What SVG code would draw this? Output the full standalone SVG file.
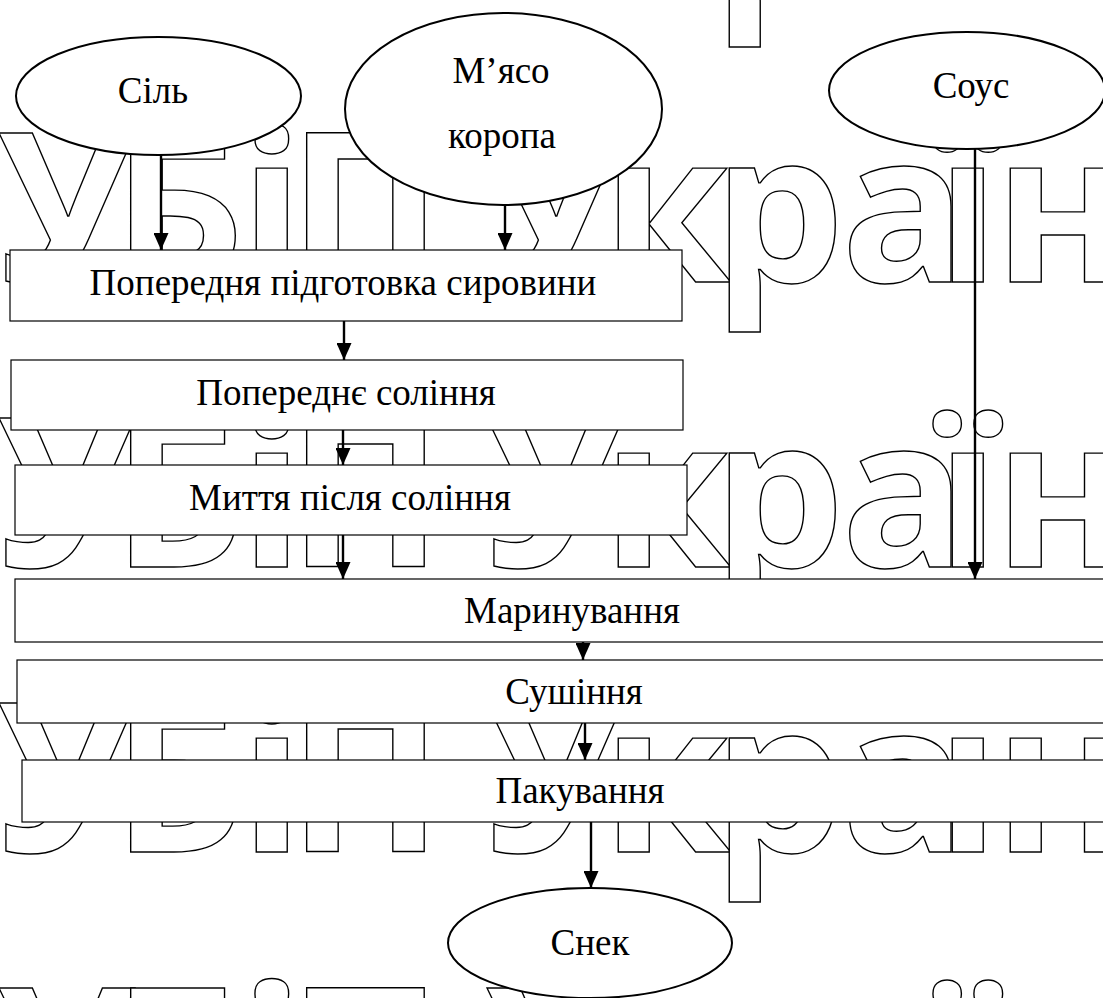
<svg xmlns="http://www.w3.org/2000/svg" width="1103" height="998" viewBox="0 0 1103 998">
<style>
.wm{font-family:"Open Sans","Noto Sans",sans-serif;font-weight:700;font-size:208px;fill:#fff;stroke:#000;stroke-width:1.4px}
.box{fill:#fff;stroke:#000;stroke-width:1.2px}
.ell{fill:#fff;stroke:#000;stroke-width:2px}
.t{font-family:"Liberation Serif","Times New Roman",serif;font-size:37px;fill:#000;text-anchor:middle}
.c{stroke:#000;stroke-width:2.4px;fill:none;marker-end:url(#arr)}
</style>
<defs>
<marker id="arr" markerUnits="userSpaceOnUse" markerWidth="17" markerHeight="15" viewBox="0 0 17 15" refX="17" refY="7.5" orient="auto">
<path d="M0,0 L17,7.5 L0,15 Z" fill="#000"/>
</marker>
</defs>
<rect width="1103" height="998" fill="#fff"/>
<g id="watermark">
<text class="wm" x="-3 112 240 288 440 485 602 713 841 936 994" y="-3">УБіП Україн</text>
<text class="wm" x="-3 112 240 288 440 485 602 713 841 936 994" y="282">УБіП Україн</text>
<text class="wm" x="-3 112 240 288 440 485 602 713 841 936 994" y="567">УБіП Україн</text>
<text class="wm" x="-3 112 240 288 440 485 602 713 841 936 994" y="852">УБіП Україн</text>
<text class="wm" x="-3 112 240 288 440 485 602 713 841 936 994" y="1137">УБіП Україн</text>
</g>
<g id="sil"><ellipse class="ell" cx="158.5" cy="96" rx="142.5" ry="59"/><text class="t" x="153" y="103">Сіль</text></g>
<g id="myaso"><ellipse class="ell" cx="503.5" cy="109" rx="158.5" ry="96"/><text class="t" x="501" y="83">М’ясо</text><text class="t" x="502" y="148">коропа</text></g>
<g id="sous"><ellipse class="ell" cx="967" cy="90.5" rx="138" ry="58.5"/><text class="t" x="971" y="98">Соус</text></g>
<g id="box1"><rect class="box" x="10" y="250" width="672" height="71"/><text class="t" x="343" y="295">Попередня підготовка сировини</text></g>
<g id="box2"><rect class="box" x="11" y="360" width="672" height="70"/><text class="t" x="346" y="405">Попереднє соління</text></g>
<g id="box3"><rect class="box" x="15" y="465" width="672" height="70"/><text class="t" x="350" y="510">Миття після соління</text></g>
<g id="box4"><rect class="box" x="15" y="579" width="1100" height="63"/><text class="t" x="572" y="623">Маринування</text></g>
<g id="box5"><rect class="box" x="17" y="660" width="1100" height="63"/><text class="t" x="574" y="704">Сушіння</text></g>
<g id="box6"><rect class="box" x="22" y="760" width="1100" height="62"/><text class="t" x="580" y="803">Пакування</text></g>
<g id="snek"><ellipse class="ell" cx="590" cy="943" rx="142" ry="55"/><text class="t" x="590" y="955">Снек</text></g>
<g id="connectors">
<line class="c" x1="161" y1="155" x2="161" y2="250"/>
<line class="c" x1="505" y1="205" x2="505" y2="250"/>
<line class="c" x1="344" y1="321" x2="344" y2="360"/>
<line class="c" x1="343" y1="430" x2="343" y2="465"/>
<line class="c" x1="343" y1="535" x2="343" y2="579"/>
<line class="c" x1="975" y1="149" x2="975" y2="579"/>
<line class="c" x1="583" y1="642" x2="583" y2="660"/>
<line class="c" x1="585" y1="723" x2="585" y2="760"/>
<line class="c" x1="591" y1="822" x2="591" y2="888"/>
</g>
</svg>
